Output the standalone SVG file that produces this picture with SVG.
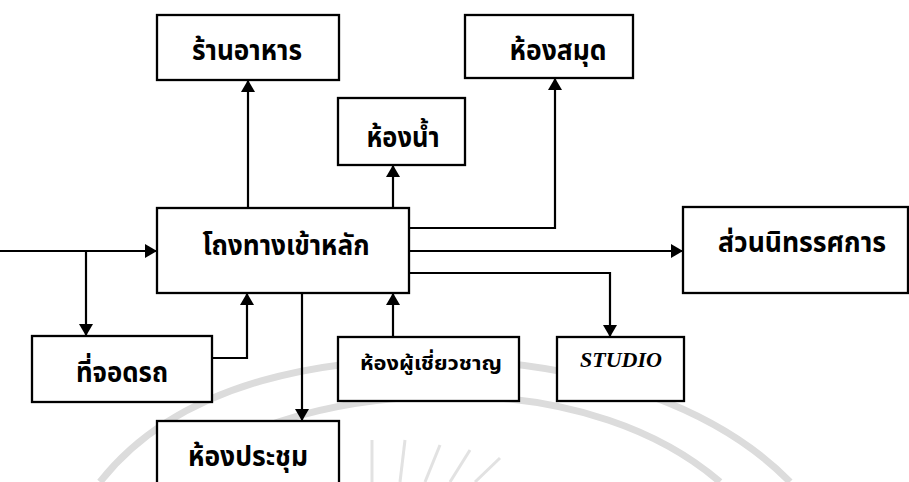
<svg xmlns="http://www.w3.org/2000/svg" width="909" height="482" viewBox="0 0 909 482">
<style>
.box{fill:#fff;stroke:#000;stroke-width:2.3}
.lbl{font-family:"Noto Sans Thai","Noto Sans","DejaVu Sans",sans-serif;font-weight:bold;font-size:28px;fill:#000;text-anchor:middle}
.small{font-size:20px}
.studio{font-family:"Liberation Serif",serif;font-style:italic;font-weight:bold;font-size:20px}
.wire{fill:none;stroke:#000;stroke-width:2.2}
.wm{fill:none;stroke:#dcdcdc}
</style>
<defs>
<marker id="arr" viewBox="0 0 12 14" refX="12" refY="7" markerWidth="12" markerHeight="14" orient="auto" markerUnits="userSpaceOnUse">
<path d="M0,0 L12,7 L0,14 z" fill="#000"/>
</marker>
</defs>
<rect width="909" height="482" fill="#fff"/>
<g id="watermark">
<path class="wm" stroke-width="7" d="M100,482 C180,380 330,355 460,360 C600,366 720,410 790,482"/>
<path class="wm" stroke-width="7" d="M170,482 C240,420 350,395 460,396 C570,398 660,430 720,482"/>
<g stroke="#e2e2e2" stroke-width="3">
<line x1="275" y1="482" x2="262" y2="455"/>
<line x1="300" y1="482" x2="290" y2="445"/>
<line x1="330" y1="482" x2="325" y2="440"/>
<line x1="372" y1="482" x2="372" y2="440"/>
<line x1="400" y1="482" x2="405" y2="440"/>
<line x1="425" y1="482" x2="440" y2="445"/>
<line x1="450" y1="482" x2="470" y2="450"/>
<line x1="475" y1="482" x2="500" y2="458"/>
</g>
</g>
<g id="connectors" class="wire">
<path d="M0,251 H157" marker-end="url(#arr)"/>
<path d="M86,251 V336" marker-end="url(#arr)"/>
<path d="M212,358 H247 V293" marker-end="url(#arr)"/>
<path d="M248,208 V80" marker-end="url(#arr)"/>
<path d="M393,208 V165" marker-end="url(#arr)"/>
<path d="M409,228 H555 V78" marker-end="url(#arr)"/>
<path d="M409,251 H683" marker-end="url(#arr)"/>
<path d="M409,273 H610 V337" marker-end="url(#arr)"/>
<path d="M393,337 V293" marker-end="url(#arr)"/>
<path d="M302,293 V421" marker-end="url(#arr)"/>
</g>
<g id="n-restaurant"><rect class="box" x="157" y="15" width="182" height="65"/><text class="lbl" x="247" y="60" textLength="110" lengthAdjust="spacingAndGlyphs">ร้านอาหาร</text></g>
<g id="n-toilet"><rect class="box" x="338" y="98" width="127" height="67"/><text class="lbl" x="403" y="147" textLength="73" lengthAdjust="spacingAndGlyphs">ห้องน้ำ</text></g>
<g id="n-library"><rect class="box" x="465" y="15" width="168" height="63"/><text class="lbl" x="558" y="60" textLength="97" lengthAdjust="spacingAndGlyphs">ห้องสมุด</text></g>
<g id="n-main"><rect class="box" x="157" y="208" width="252" height="85"/><text class="lbl" x="286" y="255" textLength="167" lengthAdjust="spacingAndGlyphs">โถงทางเข้าหลัก</text></g>
<g id="n-exhibit"><rect class="box" x="683" y="207" width="225" height="86"/><text class="lbl" x="802" y="252" textLength="168" lengthAdjust="spacingAndGlyphs">ส่วนนิทรรศการ</text></g>
<g id="n-parking"><rect class="box" x="32" y="336" width="180" height="66"/><text class="lbl" x="122" y="382" textLength="92" lengthAdjust="spacingAndGlyphs">ที่จอดรถ</text></g>
<g id="n-expert"><rect class="box" x="338" y="337" width="181" height="64"/><text class="lbl small" x="431" y="370" textLength="142" lengthAdjust="spacingAndGlyphs">ห้องผู้เชี่ยวชาญ</text></g>
<g id="n-studio"><rect class="box" x="557" y="337" width="127" height="64"/><text class="lbl studio" x="621" y="367" textLength="82" lengthAdjust="spacingAndGlyphs">STUDIO</text></g>
<g id="n-meeting"><rect class="box" x="157" y="421" width="182" height="70"/><text class="lbl" x="248" y="466" textLength="120" lengthAdjust="spacingAndGlyphs">ห้องประชุม</text></g>
</svg>
